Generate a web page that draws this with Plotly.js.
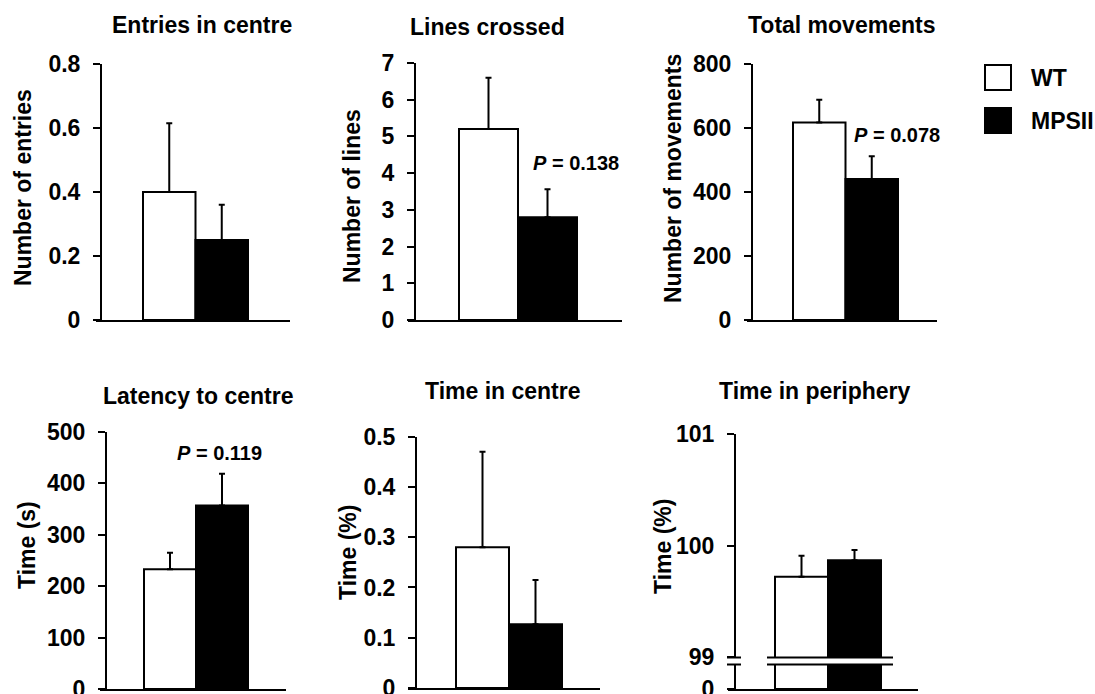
<!DOCTYPE html>
<html>
<head>
<meta charset="utf-8">
<script src="https://cdn.plot.ly/plotly-3.0.1.min.js"></script>
<style>html,body{margin:0;padding:0;background:#fff;}#chart{width:1095px;height:694px;}</style>
</head>
<body>
<div id="chart"></div>
<script>
// ---------------- data ----------------
const groups = ['WT', 'MPSII'];
const panelTitles = ['Entries in centre', 'Lines crossed', 'Total movements',
                     'Latency to centre', 'Time in centre', 'Time in periphery'];
const yTitles = ['Number of entries', 'Number of lines', 'Number of movements',
                 'Time (s)', 'Time (%)', 'Time (%)'];
const entriesMean  = [0.40, 0.25];   const entriesErr  = [0.215, 0.11];
const linesMean    = [5.2, 2.8];     const linesErr    = [1.4, 0.76];
const movesMean    = [617, 441];     const movesErr    = [71, 71];
const latencyMean  = [233, 357];     const latencyErr  = [32, 62];
const centreMean   = [0.28, 0.127];  const centreErr   = [0.19, 0.088];
const periphMean   = [99.72, 99.87]; const periphErr   = [0.19, 0.09];
const pLabels = [null, '0.138', '0.078', '0.119', null, null];

const means = [entriesMean, linesMean, movesMean, latencyMean, centreMean, periphMean];
const errs  = [entriesErr, linesErr, movesErr, latencyErr, centreErr, periphErr];

// ---------------- layout geometry (pixels) ----------------
const W = 1095, H = 694;
const fx = p => p / W;
const fy = p => 1 - p / H;
const FONT = 'Liberation Sans, Arial, sans-serif';

const geo = [
  {xl: 96,  xr: 290, ax: 101, yt: 64,    yb: 320, bl: 143, br: 248, range: [0, 0.8], dtick: 0.2},
  {xl: 408, xr: 622, ax: 415, yt: 63,    yb: 320, bl: 459, br: 577, range: [0, 7],   dtick: 1},
  {xl: 747, xr: 937, ax: 752, yt: 64,    yb: 320, bl: 793, br: 898, range: [0, 800], dtick: 200},
  {xl: 100, xr: 286, ax: 106, yt: 432,   yb: 689, bl: 144, br: 248, range: [0, 500], dtick: 100},
  {xl: 408, xr: 600, ax: 416, yt: 436.7, yb: 688, bl: 456, br: 562, range: [0, 0.5], dtick: 0.1},
  {xl: 728, xr: 918, ax: 735, yt: 434.3, yb: 657, bl: 775, br: 881, range: [99, 101], dtick: 1}
];
const titlePos = [[202, 25], [487, 27], [841, 25], [198, 396], [503, 391], [815, 391]];
const yTitlePos = [[23, 188], [352, 196], [673, 179], [27, 545], [348, 553], [663, 547]];
const pPos = [null, [576, 163], [897, 135], [219, 453], null, null];

const traces = [];
const layout = {
  width: W, height: H,
  margin: {l: 0, r: 0, t: 0, b: 0},
  paper_bgcolor: '#fff', plot_bgcolor: 'rgba(0,0,0,0)',
  showlegend: false,
  font: {family: FONT, color: '#000'},
  annotations: [], shapes: []
};

function xRange(g) {
  const unit = (g.br - g.bl) / 2;
  return [-0.5 - (g.bl - g.xl) / unit, 1.5 + (g.xr - g.br) / unit];
}

function addBars(xa, ya, i, withErr) {
  const t = {
    type: 'bar', x: [0, 1], y: means[i], width: [1, 1],
    xaxis: xa, yaxis: ya, text: groups, hoverinfo: 'text+y', textposition: 'none',
    marker: {color: ['#ffffff', '#000000'], line: {color: '#000', width: 2}}
  };
  if (withErr) {
    t.error_y = {type: 'data', symmetric: false, array: errs[i], arrayminus: [0, 0],
                 color: '#000', thickness: 2, width: 3};
  }
  traces.push(t);
}

function yAxis(g, domainTop, domainBot, range, opts) {
  return Object.assign({
    domain: [fy(domainBot), fy(domainTop)], range: range,
    anchor: 'free', position: fx(g.ax),
    showline: true, linecolor: '#000', linewidth: 2,
    ticks: 'outside', ticklen: 7, tickwidth: 2, tickcolor: '#000',
    tickfont: {family: FONT, size: 23, weight: 700, color: '#000'},
    ticklabelstandoff: 8, ticklabeloverflow: 'allow',
    showgrid: false, zeroline: false, fixedrange: true
  }, opts || {});
}

geo.forEach((g, i) => {
  const n = i + 1;
  const xa = 'x' + n, ya = 'y' + n;
  layout['xaxis' + n] = {
    domain: [fx(g.xl), fx(g.xr)], range: xRange(g), anchor: ya,
    showline: i !== 5, linecolor: '#000', linewidth: 2,
    showticklabels: false, ticks: '', showgrid: false, zeroline: false, fixedrange: true
  };
  layout['yaxis' + n] = yAxis(g, g.yt, g.yb, g.range, {dtick: g.dtick, tick0: 0});
  addBars(xa, ya, i, true);

  layout.annotations.push({
    text: panelTitles[i], xref: 'paper', yref: 'paper',
    x: fx(titlePos[i][0]), y: fy(titlePos[i][1]), xanchor: 'center', yanchor: 'middle',
    showarrow: false, font: {family: FONT, size: 23, weight: 700, color: '#000'}
  });
  layout.annotations.push({
    text: yTitles[i], xref: 'paper', yref: 'paper', textangle: -90,
    x: fx(yTitlePos[i][0]), y: fy(yTitlePos[i][1]), xanchor: 'center', yanchor: 'middle',
    showarrow: false, font: {family: FONT, size: 23, weight: 700, color: '#000'}
  });
  if (pLabels[i]) {
    layout.annotations.push({
      text: '<i>P</i> = ' + pLabels[i], xref: 'paper', yref: 'paper',
      x: fx(pPos[i][0]), y: fy(pPos[i][1]), xanchor: 'center', yanchor: 'middle',
      showarrow: false, font: {family: FONT, size: 20, weight: 700, color: '#000'}
    });
  }
});

// lower segment of the broken axis (Time in periphery)
const g6 = geo[5];
layout.xaxis7 = {
  domain: [fx(g6.xl), fx(g6.xr)], range: xRange(g6), anchor: 'y7',
  showline: true, linecolor: '#000', linewidth: 2,
  showticklabels: false, ticks: '', showgrid: false, zeroline: false, fixedrange: true
};
layout.yaxis7 = yAxis(g6, 664.5, 689, [0, 1], {tickvals: [0], ticktext: ['0']});
addBars('x7', 'y7', 5, false);

// break marks
[657.5, 664.5].forEach(py => {
  [[727, 741], [767, 893]].forEach(([a, b]) => {
    layout.shapes.push({type: 'line', xref: 'paper', yref: 'paper',
      x0: fx(a), x1: fx(b), y0: fy(py), y1: fy(py), line: {color: '#000', width: 2}});
  });
});

// legend
const legendItems = [{name: groups[0], fill: '#ffffff', top: 65}, {name: groups[1], fill: '#000000', top: 108}];
legendItems.forEach(it => {
  layout.shapes.push({type: 'rect', xref: 'paper', yref: 'paper',
    x0: fx(985), x1: fx(1011), y0: fy(it.top + 25), y1: fy(it.top),
    fillcolor: it.fill, line: {color: '#000', width: 2}});
  layout.annotations.push({text: it.name, xref: 'paper', yref: 'paper',
    x: fx(1029), y: fy(it.top + 12.5), xanchor: 'left', yanchor: 'middle', showarrow: false,
    font: {family: FONT, size: 23, weight: 700, color: '#000'}});
});

Plotly.newPlot('chart', traces, layout, {displayModeBar: false, staticPlot: true});
</script>
</body>
</html>
